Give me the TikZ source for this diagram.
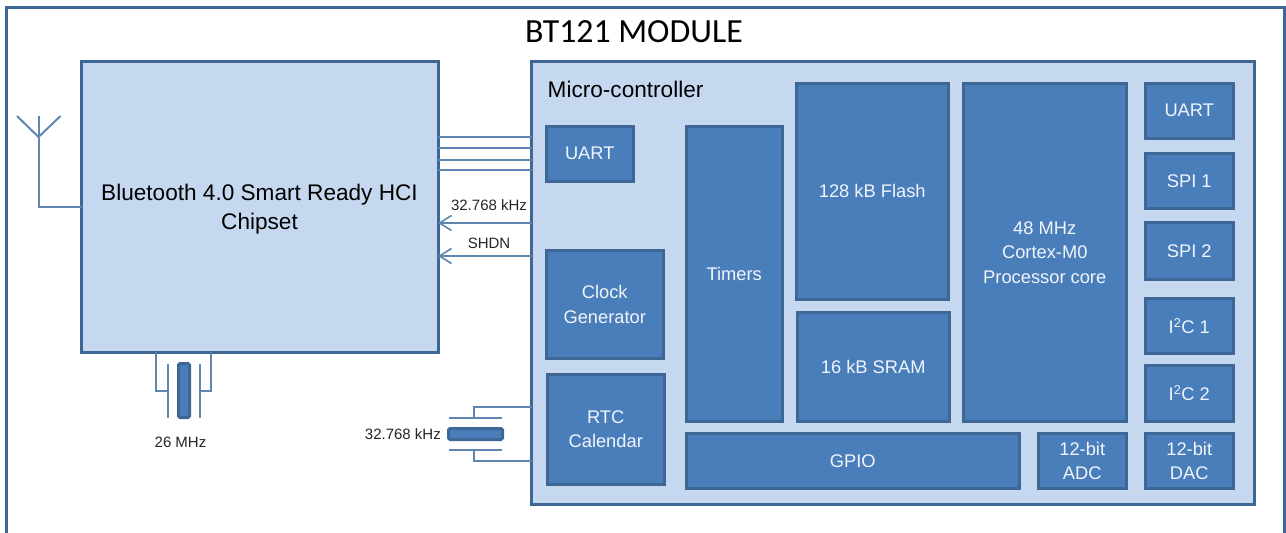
\documentclass[tikz,border=0pt]{standalone}
\usepackage{fontspec}
\setmainfont{Liberation Sans}
\newfontfamily\titlefont{Carlito}
\usetikzlibrary{arrows.meta}
\definecolor{edgeblue}{HTML}{3F6795}
\definecolor{panelblue}{HTML}{C6D8F0}
\definecolor{fillblue}{HTML}{4A7EBB}
\definecolor{wireblue}{HTML}{5F86B0}
\tikzset{
  x=1pt,y=-1pt,
  panel/.style={draw=edgeblue,line width=3pt,fill=panelblue,anchor=north west,inner sep=0pt,outer sep=0pt,align=center,text=black},
  block/.style={draw=edgeblue,line width=3pt,fill=fillblue,anchor=north west,inner sep=0pt,outer sep=0pt,align=center,text=white!92!fillblue,font=\fontsize{18.3}{24.5}\selectfont},
  wire/.style={draw=wireblue,line width=2pt},
  plate/.style={draw=wireblue,line width=2pt},
  xtal/.style={draw=edgeblue,line width=3pt,fill=fillblue,anchor=north west,inner sep=0pt,outer sep=0pt,rounded corners=1.5pt},
  lab/.style={inner sep=0pt,text=black!85,font=\fontsize{15}{18}\selectfont},
  arrowwire/.style={wire,-{Straight Barb[length=12pt,width=15pt,line width=1.6pt]}}
}
\newcommand{\boxat}[7]{\node[#1,minimum width=#5pt-#3pt-0.5pt,minimum height=#6pt-#4pt-0.5pt] (#2) at (#3+0.5,#4+0.5) {#7};}
\begin{document}
\begin{tikzpicture}
\useasboundingbox (0,0) rectangle (1286,533);
\clip (0,0) rectangle (1286,533);
\fill[white] (0,0) rectangle (1286,533);
\node[draw=edgeblue,line width=3pt,anchor=north west,outer sep=0pt,minimum width=1278.5pt,minimum height=540pt,inner sep=0pt] (frame) at (6,7) {};
\node[font=\titlefont\fontsize{33.8}{38}\selectfont,inner sep=0pt] (title) at (634,32) {BT121 MODULE};

\boxat{panel}{mcu}{531}{61}{1254}{504}{}
\boxat{panel}{chip}{81}{61}{438}{352}{}
\node[align=center,inner sep=0pt,font=\fontsize{22.6}{29}\selectfont] (chiplabel) at (259.5,209.5) {Bluetooth 4.0 Smart Ready HCI\\ Chipset};
\node[anchor=west,font=\fontsize{22.6}{26}\selectfont,inner sep=0pt] (mculabel) at (547.5,89) {Micro-controller};

\boxat{block}{uartl}{546}{126}{633}{181}{UART}
\boxat{block}{timers}{686}{126}{782}{421}{Timers}
\boxat{block}{flash}{796}{83}{948}{299}{128 kB Flash}
\boxat{block}{sram}{797}{312}{949}{421}{16 kB SRAM}
\boxat{block}{core}{963}{83}{1126}{421}{48 MHz\\ Cortex-M0\\ Processor core}
\boxat{block}{uartr}{1145}{83}{1233}{138}{UART}
\boxat{block}{spia}{1145}{153}{1233}{208}{SPI 1}
\boxat{block}{spib}{1145}{222}{1233}{279}{SPI 2}
\boxat{block}{i2ca}{1145}{298}{1233}{353}{I\textsuperscript{2}C 1}
\boxat{block}{i2cb}{1145}{365}{1233}{421}{I\textsuperscript{2}C 2}
\boxat{block}{dac}{1145}{433}{1233}{488}{12-bit\\ DAC}
\boxat{block}{adc}{1038}{433}{1126}{488}{12-bit\\ ADC}
\boxat{block}{gpio}{686}{433}{1019}{488}{GPIO}
\boxat{block}{clock}{546}{250}{663}{358}{Clock\\ Generator}
\boxat{block}{rtc}{547}{374}{664}{484}{RTC\\ Calendar}

% UART bus
\foreach \yy in {137,148,159.5,170}{\draw[wire] (chip.east |- 0,\yy) -- (mcu.west |- 0,\yy);}
% signals
\draw[arrowwire] (mcu.west |- 0,223) -- (chip.east |- 0,223);
\draw[arrowwire] (mcu.west |- 0,256) -- (chip.east |- 0,256);
\node[lab] (khza) at (489,205.5) {32.768 kHz};
\node[lab] (shdn) at (489,243) {SHDN};

% antenna
\coordinate (antjoin) at (38.5,137);
\coordinate (anttop) at (38.5,116);
\coordinate (antl) at (17,116);
\coordinate (antr) at (60.5,116);
\draw[wire] (chip.west |- 0,207) -- (38.5,207) -- (anttop);
\draw[wire] (antl) -- (antjoin) -- (antr);

% 26 MHz crystal
\node[xtal,minimum width=11pt,minimum height=54pt] (xa) at (178.5,363.5) {};
\coordinate (pal) at (168,391);
\coordinate (par) at (200,391);
\draw[plate] (168,364) -- (168,418);
\draw[plate] (200,364) -- (200,418);
\draw[wire] (chip.south -| 156,0) -- (156,391) -- (pal);
\draw[wire] (chip.south -| 211,0) -- (211,391) -- (par);
\node[lab] (xalab) at (180.5,442) {26 MHz};

% 32.768 kHz crystal
\node[xtal,minimum width=54pt,minimum height=11pt] (xb) at (448.5,428.5) {};
\coordinate (pbt) at (474,418);
\coordinate (pbb) at (474,450);
\draw[plate] (449,418) -- (502,418);
\draw[plate] (449,450) -- (502,450);
\draw[wire] (pbt) -- (474,407) -- (mcu.west |- 0,407);
\draw[wire] (pbb) -- (474,461) -- (mcu.west |- 0,461);
\node[lab,anchor=east] (xblab) at (441,434) {32.768 kHz};
\end{tikzpicture}
\end{document}
